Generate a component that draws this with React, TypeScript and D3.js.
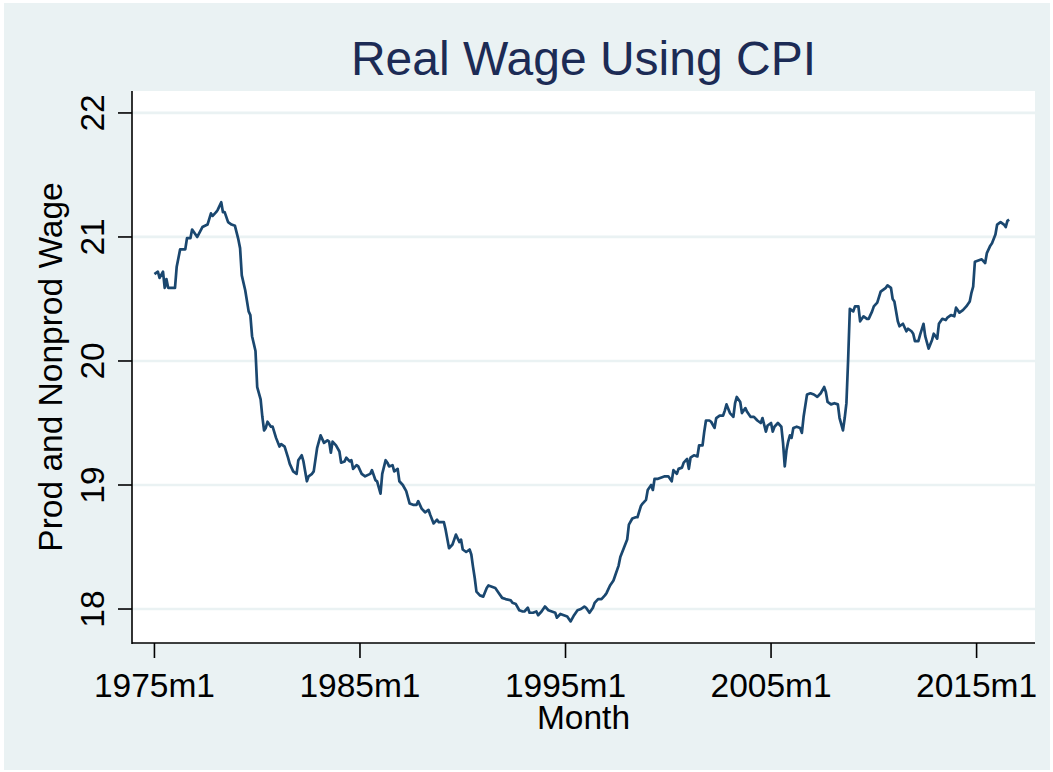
import React from "react";
import * as d3 from "d3";

// Months since 1975m1 (Stata %tm offset) and real wage values
const monthsSince1975: number[] = [
  0, 2, 3, 5, 6, 7, 8, 12, 13, 15, 18, 19, 21, 22, 23, 25, 28, 31, 33, 34, 36, 37, 39, 40, 41, 43, 45, 47, 49, 50,
  51, 53, 55, 56, 57, 59, 60, 62, 63, 64, 65, 66, 68, 69, 71, 73, 74, 76, 78, 79, 81, 83, 84, 86, 87, 89, 90, 92, 93, 95,
  97, 99, 101, 102, 103, 104, 106, 108, 109, 111, 112, 114, 115, 116, 118, 119, 121, 123, 126, 127, 129, 130, 132, 133, 135, 136, 137, 139, 140, 142,
  143, 145, 147, 149, 151, 153, 154, 156, 158, 160, 161, 163, 165, 166, 169, 170, 172, 174, 175, 176, 178, 179, 180, 182, 184, 185, 186, 187, 188, 190,
  192, 194, 195, 197, 199, 201, 203, 205, 208, 209, 211, 213, 215, 216, 218, 219, 221, 223, 224, 226, 228, 230, 232, 234, 235, 237, 239, 241, 243, 245,
  247, 249, 251, 252, 254, 256, 257, 259, 261, 263, 264, 266, 268, 269, 271, 272, 274, 276, 277, 279, 281, 282, 284, 285, 287, 288, 290, 291, 292, 294,
  296, 298, 300, 302, 303, 305, 306, 308, 309, 311, 312, 313, 315, 317, 318, 320, 321, 322, 324, 325, 327, 328, 330, 332, 333, 334, 336, 338, 339, 340,
  342, 343, 345, 346, 348, 350, 352, 354, 355, 357, 358, 360, 361, 362, 364, 366, 367, 368, 369, 370, 371, 372, 373, 375, 377, 378, 379, 381, 383, 385,
  387, 389, 391, 392, 393, 395, 397, 399, 400, 402, 403, 404, 405, 406, 408, 409, 411, 412, 414, 416, 417, 419, 420, 422, 424, 426, 427, 428, 430, 431,
  432, 434, 435, 437, 439, 440, 442, 443, 444, 446, 447, 449, 450, 452, 454, 455, 457, 458, 460, 462, 463, 465, 467, 468, 470, 472, 474, 476, 477, 478,
  479, 481, 483, 485, 486, 488, 489, 491, 492, 494, 496, 497, 498, 499,
];

const wage: number[] = [
  20.70, 20.72, 20.67, 20.72, 20.59, 20.66, 20.59, 20.59, 20.76, 20.90, 20.90, 20.99, 20.99, 21.06, 21.04, 21.00, 21.08, 21.10, 21.19, 21.17, 21.20, 21.22, 21.28, 21.20, 21.20, 21.12, 21.10, 21.09, 20.98, 20.91,
  20.69, 20.57, 20.40, 20.37, 20.20, 20.08, 19.79, 19.69, 19.55, 19.44, 19.46, 19.51, 19.47, 19.47, 19.38, 19.31, 19.33, 19.31, 19.22, 19.17, 19.11, 19.09, 19.20, 19.24, 19.19, 19.03, 19.07, 19.09, 19.11, 19.30,
  19.40, 19.34, 19.36, 19.35, 19.26, 19.35, 19.32, 19.27, 19.18, 19.19, 19.22, 19.19, 19.20, 19.13, 19.16, 19.15, 19.09, 19.07, 19.09, 19.12, 19.04, 19.03, 18.93, 19.09, 19.20, 19.18, 19.15, 19.16, 19.11, 19.13,
  19.03, 19.00, 18.95, 18.85, 18.84, 18.84, 18.87, 18.81, 18.78, 18.80, 18.76, 18.69, 18.72, 18.70, 18.70, 18.64, 18.49, 18.52, 18.56, 18.60, 18.54, 18.56, 18.48, 18.46, 18.48, 18.44, 18.34, 18.25, 18.14, 18.11,
  18.10, 18.17, 18.19, 18.18, 18.17, 18.13, 18.09, 18.08, 18.07, 18.05, 18.04, 17.99, 17.98, 17.98, 18.01, 17.97, 17.97, 17.98, 17.95, 17.98, 18.02, 17.99, 17.98, 17.97, 17.93, 17.96, 17.95, 17.94, 17.90, 17.95,
  17.99, 18.00, 18.02, 18.01, 17.97, 18.01, 18.05, 18.08, 18.08, 18.11, 18.13, 18.19, 18.23, 18.27, 18.35, 18.42, 18.49, 18.56, 18.68, 18.73, 18.74, 18.74, 18.83, 18.85, 18.88, 18.96, 19.00, 18.96, 19.05, 19.05,
  19.06, 19.07, 19.07, 19.03, 19.12, 19.09, 19.13, 19.14, 19.18, 19.21, 19.13, 19.22, 19.24, 19.23, 19.32, 19.32, 19.43, 19.52, 19.52, 19.51, 19.46, 19.54, 19.56, 19.56, 19.60, 19.65, 19.58, 19.55, 19.66, 19.71,
  19.67, 19.58, 19.62, 19.59, 19.55, 19.55, 19.52, 19.50, 19.54, 19.43, 19.48, 19.50, 19.43, 19.47, 19.50, 19.47, 19.34, 19.15, 19.28, 19.35, 19.40, 19.38, 19.46, 19.47, 19.46, 19.42, 19.55, 19.73, 19.74, 19.73,
  19.71, 19.74, 19.79, 19.75, 19.67, 19.65, 19.66, 19.65, 19.54, 19.44, 19.54, 19.66, 20.01, 20.42, 20.40, 20.44, 20.44, 20.32, 20.36, 20.34, 20.34, 20.40, 20.44, 20.47, 20.56, 20.58, 20.59, 20.61, 20.59, 20.50,
  20.48, 20.32, 20.28, 20.30, 20.24, 20.26, 20.24, 20.22, 20.16, 20.16, 20.21, 20.30, 20.20, 20.10, 20.17, 20.22, 20.18, 20.30, 20.34, 20.33, 20.35, 20.37, 20.36, 20.43, 20.39, 20.41, 20.44, 20.48, 20.55, 20.60,
  20.80, 20.81, 20.82, 20.79, 20.87, 20.93, 20.95, 21.02, 21.10, 21.12, 21.10, 21.08, 21.13, 21.14,
];

const yTicks: number[] = [18, 19, 20, 21, 22];
const xTicks: number[] = [0, 120, 240, 360, 480];
const xTickLabels: string[] = ["1975m1", "1985m1", "1995m1", "2005m1", "2015m1"];

const title = "Real Wage Using CPI";
const xTitle = "Month";
const yTitle = "Prod and Nonprod Wage";

const W = 1053;
const H = 772;
const plot = { left: 132, right: 1035, top: 91, bottom: 643 };

export default function App() {
  const x = d3.scaleLinear().domain([-13.1, 514.1]).range([plot.left, plot.right]);
  const y = d3.scaleLinear().domain([17.726, 22.177]).range([plot.bottom, plot.top]);

  const pts: [number, number][] = monthsSince1975.map((m, i) => [m, wage[i]]);
  const line = d3
    .line<[number, number]>()
    .x((d) => x(d[0]))
    .y((d) => y(d[1]));

  const font = "'Liberation Sans', Arial, Helvetica, sans-serif";
  const navy = "#1a476f";

  return (
    <svg
      width={W}
      height={H}
      style={{ position: "absolute", left: 0, top: 0, display: "block" }}
      fontFamily={font}
    >
      <rect x={0} y={0} width={W} height={H} fill="#ffffff" />
      <rect x={4} y={3} width={1046} height={767} fill="#eaf2f3" />
      <rect
        x={plot.left}
        y={plot.top}
        width={plot.right - plot.left}
        height={plot.bottom - plot.top}
        fill="#ffffff"
      />
      {/* gridlines */}
      {yTicks.map((t) => (
        <line
          key={"g" + t}
          x1={plot.left}
          x2={plot.right}
          y1={y(t)}
          y2={y(t)}
          stroke="#eaf2f3"
          strokeWidth={2.7}
        />
      ))}
      {/* data line */}
      <path d={line(pts) || ""} fill="none" stroke={navy} strokeWidth={2.7} strokeLinejoin="round" />
      {/* axes */}
      <line x1={plot.left} x2={plot.left} y1={plot.top} y2={plot.bottom + 1} stroke="#000" strokeWidth={1.6} />
      <line x1={plot.left} x2={plot.right} y1={plot.bottom} y2={plot.bottom} stroke="#000" strokeWidth={1.6} />
      {yTicks.map((t) => (
        <g key={"y" + t}>
          <line x1={plot.left - 14} x2={plot.left} y1={y(t)} y2={y(t)} stroke="#000" strokeWidth={1.6} />
          <text
            transform={`translate(104,${y(t)}) rotate(-90)`}
            textAnchor="middle"
            fontSize={33.5}
            fill="#000"
          >
            {t}
          </text>
        </g>
      ))}
      {xTicks.map((t, i) => (
        <g key={"x" + t}>
          <line x1={x(t)} x2={x(t)} y1={plot.bottom} y2={plot.bottom + 15} stroke="#000" strokeWidth={1.6} />
          <text x={x(t)} y={697} textAnchor="middle" fontSize={33.5} fill="#000">
            {xTickLabels[i]}
          </text>
        </g>
      ))}
      <text x={(plot.left + plot.right) / 2} y={729} textAnchor="middle" fontSize={33.5} fill="#000">
        {xTitle}
      </text>
      <text
        transform={`translate(62,${367}) rotate(-90)`}
        textAnchor="middle"
        fontSize={33.5}
        fill="#000"
      >
        {yTitle}
      </text>
      <text x={(plot.left + plot.right) / 2} y={75} textAnchor="middle" fontSize={48} fill="#1c2b55">
        {title}
      </text>
    </svg>
  );
}
